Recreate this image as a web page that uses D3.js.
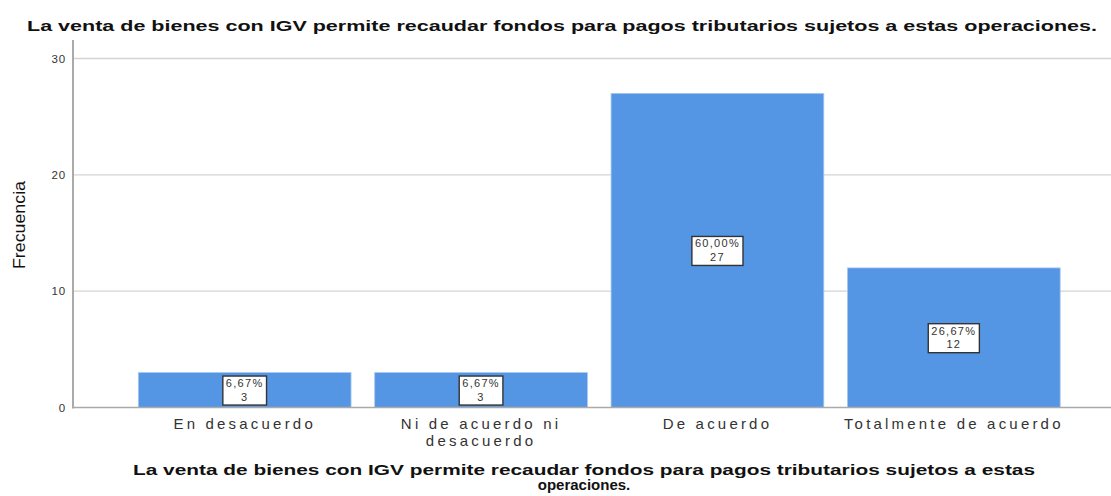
<!DOCTYPE html>
<html><head><meta charset="utf-8">
<script src="https://cdn.jsdelivr.net/npm/d3@7"></script>
<style>body{margin:0;background:#fff}svg{display:block}</style>
</head><body>
<script>
const categories = ["En desacuerdo", "Ni de acuerdo ni desacuerdo", "De acuerdo", "Totalmente de acuerdo"];
const categoryLines = [["En desacuerdo"], ["Ni de acuerdo ni", "desacuerdo"], ["De acuerdo"], ["Totalmente de acuerdo"]];
const counts = [3, 3, 27, 12];
const percents = ["6,67%", "6,67%", "60,00%", "26,67%"];
const yTicks = [0, 10, 20, 30];
const title = "La venta de bienes con IGV permite recaudar fondos para pagos tributarios sujetos a estas operaciones.";
const xTitleLines = ["La venta de bienes con IGV permite recaudar fondos para pagos tributarios sujetos a estas", "operaciones."];
const yTitle = "Frecuencia";

const W = 1111, H = 496;
const svg = d3.select("body").append("svg").attr("width", W).attr("height", H);

const x = d3.scaleBand().domain(categories).range([126.5, 1072]).paddingInner(0.1).paddingOuter(0.05);
const y = d3.scaleLinear().domain([0, 30]).range([407.5, 58.5]);

// gridlines
svg.append("g").selectAll("line").data(yTicks.filter(d => d > 0)).join("line")
  .attr("x1", 73).attr("x2", W).attr("y1", d => y(d)).attr("y2", d => y(d))
  .attr("stroke", "#d4d4d4").attr("stroke-width", 1.3);

// bars
svg.append("g").selectAll("rect").data(categories).join("rect")
  .attr("x", d => x(d)).attr("width", x.bandwidth())
  .attr("y", (d, i) => y(counts[i])).attr("height", (d, i) => y(0) - y(counts[i]))
  .attr("fill", "#5596e4").attr("stroke", "#a9c7ef").attr("stroke-width", 0.8);

// baseline and axis line
svg.append("line").attr("x1", 73).attr("x2", W).attr("y1", y(0)).attr("y2", y(0))
  .attr("stroke", "#aaaaaa").attr("stroke-width", 1.5);
svg.append("line").attr("x1", 73).attr("x2", 73).attr("y1", 40).attr("y2", y(0) + 1)
  .attr("stroke", "#aaaaaa").attr("stroke-width", 2);

// y tick labels
svg.append("g").selectAll("text").data(yTicks).join("text")
  .attr("x", 66).attr("y", d => y(d) + 4).attr("text-anchor", "end")
  .attr("font-family", "Liberation Sans, Arial, sans-serif").attr("font-size", 11.5).attr("fill", "#333")
  .attr("letter-spacing", 0.8)
  .text(d => d);

// data labels
const lab = svg.append("g").selectAll("g").data(categories).join("g")
  .attr("transform", (d, i) => `translate(${x(d) + x.bandwidth() / 2},${(y(counts[i]) + y(0)) / 2})`);
const boxes = lab.append("rect").attr("y", -14).attr("height", 29)
  .attr("fill", "#fff").attr("stroke", "#333").attr("stroke-width", 1.4);
const pt = lab.append("text").attr("y", -3).attr("text-anchor", "middle")
  .attr("font-family", "Liberation Sans, Arial, sans-serif").attr("font-size", 11).attr("fill", "#333")
  .attr("letter-spacing", 1.3)
  .text((d, i) => percents[i]);
lab.append("text").attr("y", 10.5).attr("text-anchor", "middle")
  .attr("font-family", "Liberation Sans, Arial, sans-serif").attr("font-size", 11).attr("fill", "#333")
  .attr("letter-spacing", 1.3)
  .text((d, i) => counts[i]);
pt.each(function (d, i) {
  const w = this.getComputedTextLength() + 6;
  d3.select(boxes.nodes()[i]).attr("x", -w / 2).attr("width", w);
});

// x category labels (one text per line)
const xg = svg.append("g").selectAll("g").data(categories).join("g");
xg.each(function (d, i) {
  d3.select(this).selectAll("text").data(categoryLines[i]).join("text")
    .attr("x", x(d) + x.bandwidth() / 2).attr("y", (t, j) => 429 + j * 16.5).attr("text-anchor", "middle")
    .attr("font-family", "Liberation Sans, Arial, sans-serif").attr("font-size", 15).attr("fill", "#333")
    .attr("letter-spacing", 3.2)
    .text(t => t);
});

// title
svg.append("text").attr("x", 562).attr("y", 31).attr("text-anchor", "middle")
  .attr("font-family", "Liberation Sans, Arial, sans-serif").attr("font-weight", "bold").attr("font-size", 15.5)
  .attr("fill", "#111").attr("textLength", 1070).attr("lengthAdjust", "spacingAndGlyphs").text(title);

// x axis title
svg.append("g").selectAll("text").data(xTitleLines).join("text")
  .attr("x", 584).attr("y", (d, i) => 475 + i * 15).attr("text-anchor", "middle")
  .attr("font-family", "Liberation Sans, Arial, sans-serif").attr("font-weight", "bold").attr("font-size", 15)
  .attr("fill", "#111")
  .each(function (d, i) { if (i === 0) d3.select(this).attr("textLength", 902).attr("lengthAdjust", "spacingAndGlyphs"); })
  .text(d => d);

// y axis title
svg.append("text").attr("transform", "translate(25,225) rotate(-90)").attr("text-anchor", "middle")
  .attr("font-family", "Liberation Sans, Arial, sans-serif").attr("font-size", 17).attr("fill", "#111")
  .attr("textLength", 88).attr("lengthAdjust", "spacingAndGlyphs")
  .text(yTitle);
</script>
</body></html>
